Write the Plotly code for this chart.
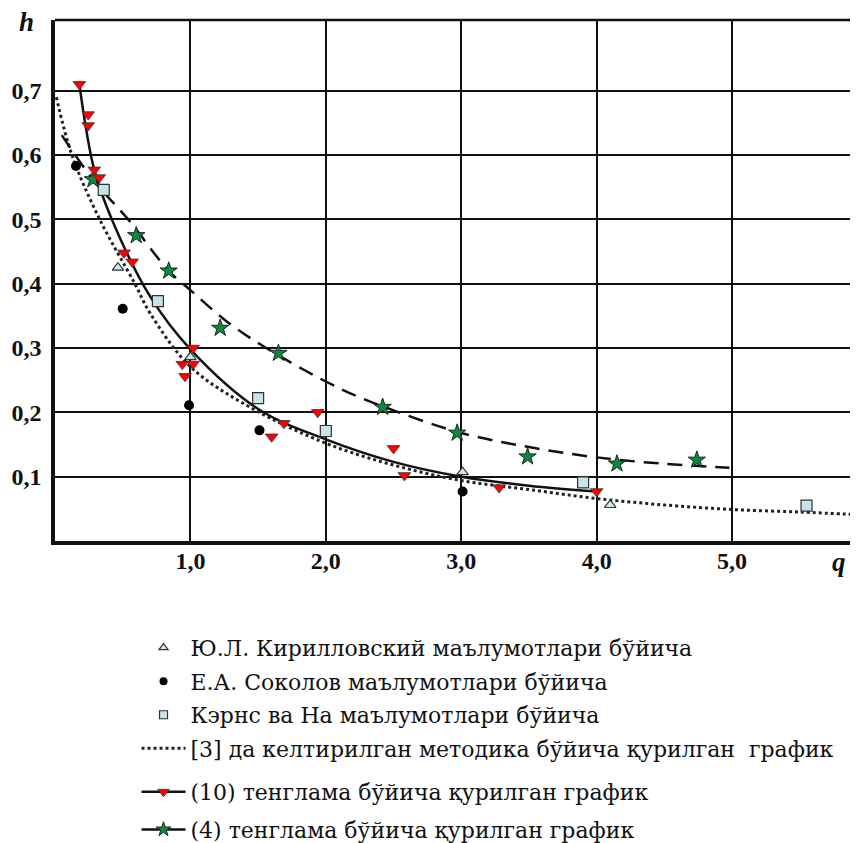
import plotly.graph_objects as go

# ---------------- data ----------------
# Ю.Л. Кирилловский
kir_q = [0.465, 1.00, 3.01, 4.10]
kir_h = [0.425, 0.286, 0.107, 0.056]
# Е.А. Соколов
sok_q = [0.155, 0.50, 0.99, 1.51, 3.01]
sok_h = [0.583, 0.361, 0.211, 0.172, 0.077]
# Кэрнс ва На
ker_q = [0.36, 0.76, 1.50, 2.00, 3.90, 5.55]
ker_h = [0.546, 0.373, 0.222, 0.171, 0.091, 0.055]
# (10) points
eq10_q = [0.18, 0.245, 0.245, 0.29, 0.327, 0.51, 0.57, 0.94, 0.96, 1.02, 1.02,
          1.60, 1.69, 1.94, 2.50, 2.58, 3.28, 4.00]
eq10_h = [0.71, 0.663, 0.646, 0.577, 0.565, 0.448, 0.434, 0.275, 0.256, 0.300, 0.275,
          0.162, 0.183, 0.200, 0.144, 0.102, 0.083, 0.077]
# (4) points
eq4_q = [0.28, 0.60, 0.84, 1.22, 1.65, 2.42, 2.97, 3.49, 4.15, 4.74]
eq4_h = [0.562, 0.475, 0.420, 0.331, 0.292, 0.208, 0.168, 0.131, 0.120, 0.126]

# curves
curve10_q = [0.18, 0.29, 0.42, 0.70, 1.00, 1.51, 2.00, 2.50, 3.00, 3.50, 4.00]
curve10_h = [0.71, 0.577, 0.50, 0.381, 0.298, 0.204, 0.158, 0.123, 0.100, 0.086, 0.077]
curve4_q = [0.05, 0.28, 0.54, 0.84, 1.00, 1.27, 1.56, 2.10, 2.50, 3.00, 3.50, 4.00, 4.50, 4.98]
curve4_h = [0.631, 0.562, 0.500, 0.420, 0.390, 0.341, 0.300, 0.2375, 0.203, 0.168, 0.146, 0.130, 0.120, 0.114]
curve3_q = [0.01, 0.125, 0.33, 0.59, 0.70, 1.00, 1.44, 2.00, 2.50, 3.00, 3.50, 4.00, 4.50, 5.00, 5.50, 5.93]
curve3_h = [0.69, 0.60, 0.50, 0.40, 0.355, 0.271, 0.208, 0.152, 0.118, 0.094, 0.080, 0.066, 0.056, 0.049, 0.045, 0.041]

x_ticks = [1, 2, 3, 4, 5]
x_labels = ["1,0", "2,0", "3,0", "4,0", "5,0"]
y_ticks = [0.1, 0.2, 0.3, 0.4, 0.5, 0.6, 0.7]
y_labels = ["0,1", "0,2", "0,3", "0,4", "0,5", "0,6", "0,7"]

names = [
    "Ю.Л. Кирилловский маълумотлари бўйича",
    "Е.А. Соколов маълумотлари бўйича",
    "Кэрнс ва На маълумотлари бўйича",
    "[3] да келтирилган методика бўйича қурилган  график",
    "(10) тенглама бўйича қурилган график",
    "(4) тенглама бўйича қурилган график",
]

SERIF = "Liberation Serif"
LEG_SERIF = "DejaVu Serif"
fig = go.Figure()

# curves
fig.add_trace(go.Scatter(x=curve3_q, y=curve3_h, mode="lines", line_shape="spline",
                         line=dict(color="#222", width=3, dash="dot"), showlegend=False, hoverinfo="skip"))
fig.add_trace(go.Scatter(x=curve4_q, y=curve4_h, mode="lines", line_shape="spline",
                         line=dict(color="#111", width=2.5, dash="15px,9px"), showlegend=False, hoverinfo="skip"))
fig.add_trace(go.Scatter(x=curve10_q, y=curve10_h, mode="lines", line_shape="spline",
                         line=dict(color="#111", width=2.5), showlegend=False, hoverinfo="skip"))

# points
fig.add_trace(go.Scatter(x=kir_q, y=kir_h, mode="markers", showlegend=False,
                         marker=dict(symbol="triangle-up", size=10, color="#cfe6ec",
                                     line=dict(color="#333", width=1.2))))
fig.add_trace(go.Scatter(x=sok_q, y=sok_h, mode="markers", showlegend=False,
                         marker=dict(symbol="circle", size=10, color="#000")))
fig.add_trace(go.Scatter(x=ker_q, y=ker_h, mode="markers", showlegend=False,
                         marker=dict(symbol="square", size=11, color="#c6e4ea",
                                     line=dict(color="#333", width=1.2))))
fig.add_trace(go.Scatter(x=eq4_q, y=eq4_h, mode="markers", showlegend=False,
                         marker=dict(symbol="star", size=13, color="#0a8a3c",
                                     line=dict(color="#222", width=1))))
fig.add_trace(go.Scatter(x=eq10_q, y=eq10_h, mode="markers", showlegend=False,
                         marker=dict(symbol="triangle-down", size=11, color="#ff0000",
                                     line=dict(color="#333", width=0.8))))

# legend entries
leg_font = dict(family=LEG_SERIF, size=22, color="#111")
fig.add_trace(go.Scatter(x=[None], y=[None], mode="markers", name=names[0], legend="legend",
                         legendgroup="a",
                         marker=dict(symbol="triangle-up", size=8, color="#cfe6ec",
                                     line=dict(color="#333", width=1.2))))
fig.add_trace(go.Scatter(x=[None], y=[None], mode="markers", name=names[1], legend="legend",
                         legendgroup="b", marker=dict(symbol="circle", size=8, color="#000")))
fig.add_trace(go.Scatter(x=[None], y=[None], mode="markers", name=names[2], legend="legend",
                         legendgroup="c",
                         marker=dict(symbol="square", size=8, color="#c6e4ea",
                                     line=dict(color="#333", width=1.2))))
fig.add_trace(go.Scatter(x=[None], y=[None], mode="lines", name=names[3], legend="legend",
                         legendgroup="d", line=dict(color="#222", width=3, dash="dot")))
fig.add_trace(go.Scatter(x=[None], y=[None], mode="lines+markers", name=names[4], legend="legend2",
                         legendgroup="e", line=dict(color="#111", width=2.5),
                         marker=dict(symbol="triangle-down", size=10, color="#ff0000",
                                     line=dict(color="#333", width=0.8))))
fig.add_trace(go.Scatter(x=[None], y=[None], mode="lines+markers", name=names[5], legend="legend2",
                         legendgroup="f", line=dict(color="#111", width=2.5),
                         marker=dict(symbol="star", size=11, color="#0a8a3c",
                                     line=dict(color="#222", width=1))))

axis_font = dict(family=SERIF, size=24, color="#111", weight="bold")
# the page body adds an 8px offset, so the figure is drawn 8px smaller
fig.update_layout(
    width=850, height=835, autosize=False,
    margin=dict(l=47, r=0, t=12, b=302, autoexpand=False),
    paper_bgcolor="white", plot_bgcolor="white",
    xaxis=dict(range=[0, 5.93], tickvals=x_ticks, ticktext=x_labels, tickfont=axis_font,
               showgrid=True, gridcolor="#111", gridwidth=1.8, zeroline=False, tickangle=0,
               showline=True, linecolor="#111", linewidth=3.5, ticks="", ticklabelstandoff=-5),
    yaxis=dict(range=[0, 0.81], tickvals=y_ticks, ticktext=y_labels, tickfont=axis_font,
               showgrid=True, gridcolor="#111", gridwidth=1.8, zeroline=False,
               showline=True, linecolor="#111", linewidth=3.5, ticks="", ticklabelstandoff=5),
    legend=dict(xref="container", yref="container", x=0.1512, y=0.259, xanchor="left", yanchor="top",
                font=leg_font, tracegroupgap=2, itemwidth=44, bgcolor="rgba(0,0,0,0)",
                traceorder="grouped"),
    legend2=dict(xref="container", yref="container", x=0.1512, y=0.0862, xanchor="left", yanchor="top",
                 font=leg_font, tracegroupgap=6, itemwidth=44, bgcolor="rgba(0,0,0,0)",
                 traceorder="grouped"),
    shapes=[dict(type="line", xref="paper", yref="paper", x0=0, x1=1, y0=1, y1=1,
                 line=dict(color="#111", width=2.5))],
    annotations=[
        dict(text="<b><i>h</i></b>", xref="paper", yref="paper", x=-0.035, y=0.996,
             xanchor="center", yanchor="middle", showarrow=False,
             font=dict(family=SERIF, size=27, color="#111")),
        dict(text="<b><i>q</i></b>", xref="paper", yref="paper", x=0.976, y=-0.040,
             xanchor="center", yanchor="middle", showarrow=False,
             font=dict(family=SERIF, size=27, color="#111")),
    ],
    showlegend=True,
)

fig.write_html("out.html")
